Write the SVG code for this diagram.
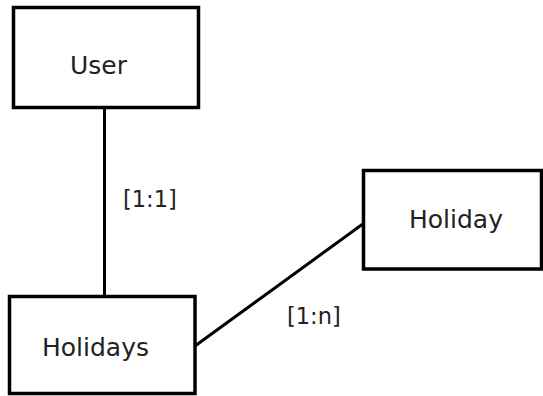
<svg xmlns="http://www.w3.org/2000/svg" width="543" height="396" viewBox="0 0 543 396">
  <style>
    .box { fill: #ffffff; stroke: #000000; stroke-width: 3.5; }
    .edge { stroke: #000000; stroke-width: 3; fill: none; }
    .name { font-family: "DejaVu Sans", sans-serif; font-size: 25px; fill: #222222; }
    .card { font-family: "DejaVu Sans", sans-serif; font-size: 22.5px; fill: #222222; }
  </style>
  <rect width="543" height="396" fill="#ffffff"/>
  <g id="connectors">
    <line class="edge" x1="104.5" y1="107.5" x2="104.5" y2="296.5"/>
    <line class="edge" x1="195" y1="346" x2="363.5" y2="223.5"/>
    <text class="card" x="123" y="207">[1:1]</text>
    <text class="card" x="287" y="324">[1:n]</text>
  </g>
  <g id="node-user">
    <rect class="box" x="13.5" y="7.5" width="185" height="100"/>
    <text class="name" x="70" y="74">User</text>
  </g>
  <g id="node-holidays">
    <rect class="box" x="9.5" y="296.5" width="185.5" height="97"/>
    <text class="name" x="42" y="356">Holidays</text>
  </g>
  <g id="node-holiday">
    <rect class="box" x="363.5" y="170.5" width="178" height="98.5"/>
    <text class="name" x="409" y="228">Holiday</text>
  </g>
</svg>
